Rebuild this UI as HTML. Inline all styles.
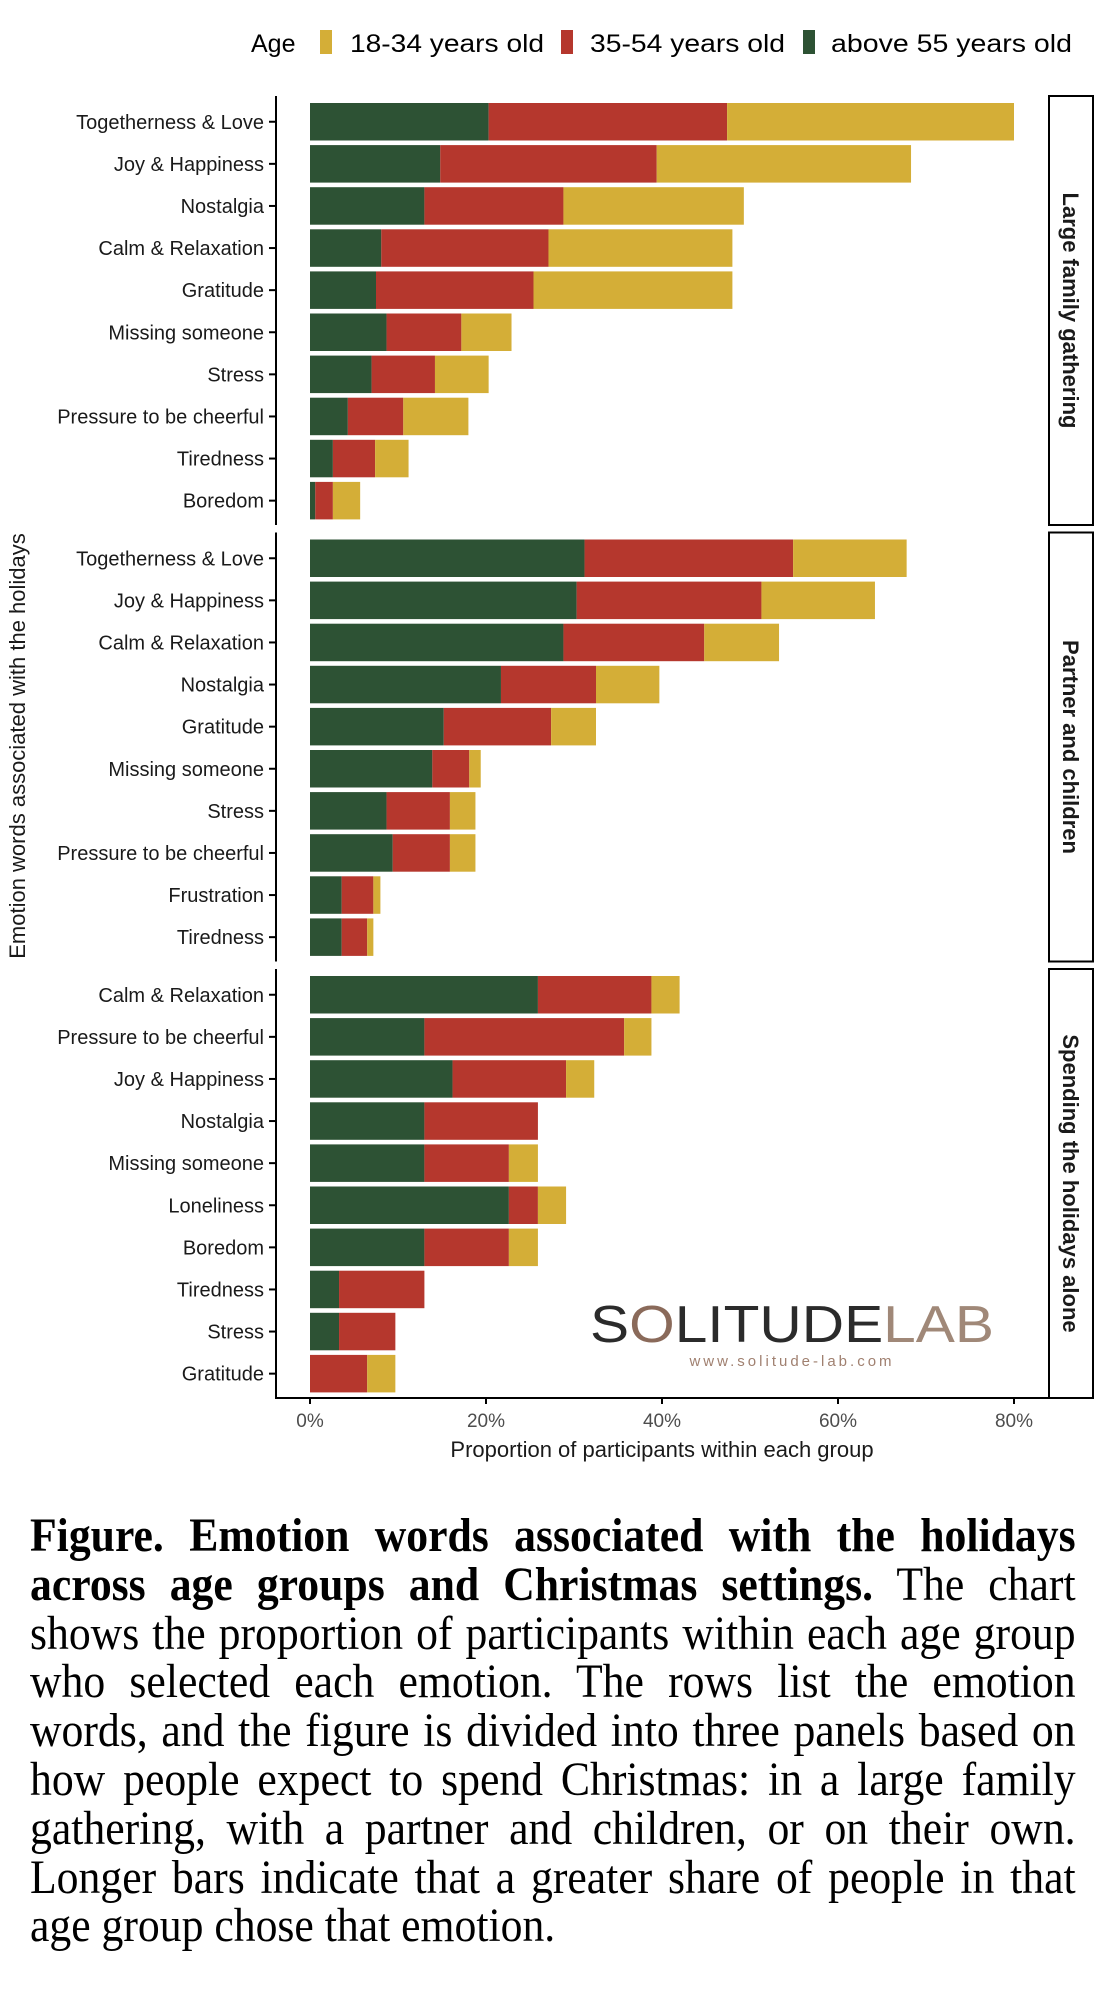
<!DOCTYPE html>
<html><head><meta charset="utf-8"><style>
body{margin:0;background:#fff;width:1104px;height:2000px;overflow:hidden;position:relative}
svg{position:absolute;left:0;top:0}
.cap{position:absolute;left:30px;top:1512px;width:1149px;transform:scaleX(0.91);transform-origin:0 0;font-family:"Liberation Serif",serif;font-size:48px;line-height:48.8px;color:#000}
.cap div{text-align:justify;text-align-last:justify;white-space:nowrap}
.cap div.l{text-align-last:left}
</style></head><body>
<svg width="1104" height="1480" viewBox="0 0 1104 1480" font-family="Liberation Sans, sans-serif">
<g font-size="25" fill="#000">
<text x="251" y="52" font-size="25">Age</text>
<rect x="320" y="30" width="12" height="24" fill="#d4ae37"/>
<text x="350" y="52" textLength="194" lengthAdjust="spacingAndGlyphs">18-34 years old</text>
<rect x="561" y="30" width="12" height="24" fill="#b5372d"/>
<text x="590" y="52" textLength="195" lengthAdjust="spacingAndGlyphs">35-54 years old</text>
<rect x="803" y="30" width="12" height="24" fill="#2d5234"/>
<text x="831" y="52" textLength="241" lengthAdjust="spacingAndGlyphs">above 55 years old</text>
</g>
<text transform="translate(25,746) rotate(-90)" text-anchor="middle" font-size="22" fill="#1a1a1a">Emotion words associated with the holidays</text>
<g id="chart"></g>
<line x1="275" y1="1398" x2="1048" y2="1398" stroke="#000" stroke-width="2"/>
<g stroke="#000" stroke-width="2">
<line x1="310" y1="1398" x2="310" y2="1404"/><line x1="486" y1="1398" x2="486" y2="1404"/><line x1="662" y1="1398" x2="662" y2="1404"/><line x1="838" y1="1398" x2="838" y2="1404"/><line x1="1014" y1="1398" x2="1014" y2="1404"/>
</g>
<g font-size="19" fill="#4d4d4d" text-anchor="middle">
<text x="310" y="1427">0%</text><text x="486" y="1427">20%</text><text x="662" y="1427">40%</text><text x="838" y="1427">60%</text><text x="1014" y="1427">80%</text>
</g>
<text x="662" y="1457" text-anchor="middle" font-size="22" fill="#1a1a1a">Proportion of participants within each group</text>
<text x="792" y="1342" text-anchor="middle" font-size="52" fill="#2b2b2b" textLength="404" lengthAdjust="spacingAndGlyphs">S<tspan fill="#8a6a5a">O</tspan>LITUDE<tspan fill="#a08878">LAB</tspan></text>
<text x="792" y="1366" text-anchor="middle" font-size="15" fill="#a08070" letter-spacing="3">www.solitude-lab.com</text>
</svg>
<div class="cap">
<div><b>Figure. Emotion words associated with the holidays</b></div>
<div><b>across age groups and Christmas settings.</b> The chart</div>
<div>shows the proportion of participants within each age group</div>
<div>who selected each emotion. The rows list the emotion</div>
<div>words, and the figure is divided into three panels based on</div>
<div>how people expect to spend Christmas: in a large family</div>
<div>gathering, with a partner and children, or on their own.</div>
<div>Longer bars indicate that a greater share of people in that</div>
<div class="l">age group chose that emotion.</div>
</div>
<script>
var P=[
{t:"Large family gathering",r:[["Togetherness & Love",20.3,47.4,80],["Joy & Happiness",14.8,39.4,68.3],["Nostalgia",13,28.8,49.3],["Calm & Relaxation",8.1,27.1,48],["Gratitude",7.5,25.4,48],["Missing someone",8.7,17.2,22.9],["Stress",7,14.2,20.3],["Pressure to be cheerful",4.3,10.6,18],["Tiredness",2.6,7.4,11.2],["Boredom",0.6,2.6,5.7]]},
{t:"Partner and children",r:[["Togetherness & Love",31.2,54.9,67.8],["Joy & Happiness",30.3,51.3,64.2],["Calm & Relaxation",28.8,44.8,53.3],["Nostalgia",21.7,32.5,39.7],["Gratitude",15.2,27.4,32.5],["Missing someone",13.9,18.1,19.4],["Stress",8.7,15.9,18.8],["Pressure to be cheerful",9.4,15.9,18.8],["Frustration",3.6,7.2,8],["Tiredness",3.6,6.5,7.2]]},
{t:"Spending the holidays alone",r:[["Calm & Relaxation",25.9,38.8,42],["Pressure to be cheerful",13,35.7,38.8],["Joy & Happiness",16.2,29.1,32.3],["Nostalgia",13,25.9,25.9],["Missing someone",13,22.6,25.9],["Loneliness",22.6,25.9,29.1],["Boredom",13,22.6,25.9],["Tiredness",3.3,13,13],["Stress",3.3,9.7,9.7],["Gratitude",0,6.5,9.7]]}];
var s="",X=function(p){return 310+p*8.8;};
P.forEach(function(pn,i){
 var top=96+i*436.5,bot=top+429;
 s+='<line x1="276" y1="'+top+'" x2="276" y2="'+bot+'" stroke="#000" stroke-width="2"/>';
 s+='<rect x="1049" y="'+top+'" width="44" height="429" fill="#fff" stroke="#000" stroke-width="2"/>';
 s+='<text transform="translate(1063,'+(top+214.5)+') rotate(90)" text-anchor="middle" font-size="22" font-weight="bold" fill="#1a1a1a">'+pn.t+'</text>';
 pn.r.forEach(function(r,j){
  var y=top+7+j*42.1,h=37.5,c=y+h/2;
  s+='<line x1="269" y1="'+c+'" x2="276" y2="'+c+'" stroke="#000" stroke-width="2"/>';
  s+='<text x="264" y="'+(c+7)+'" text-anchor="end" font-size="20" fill="#1a1a1a">'+r[0].replace("&","&amp;")+'</text>';
  if(r[1]>0)s+='<rect x="310" y="'+y+'" width="'+(r[1]*8.8)+'" height="'+h+'" fill="#2d5234"/>';
  if(r[2]>r[1])s+='<rect x="'+X(r[1])+'" y="'+y+'" width="'+((r[2]-r[1])*8.8)+'" height="'+h+'" fill="#b5372d"/>';
  if(r[3]>r[2])s+='<rect x="'+X(r[2])+'" y="'+y+'" width="'+((r[3]-r[2])*8.8)+'" height="'+h+'" fill="#d4ae37"/>';
 });
});
document.getElementById("chart").innerHTML=s;
</script>
</body></html>
